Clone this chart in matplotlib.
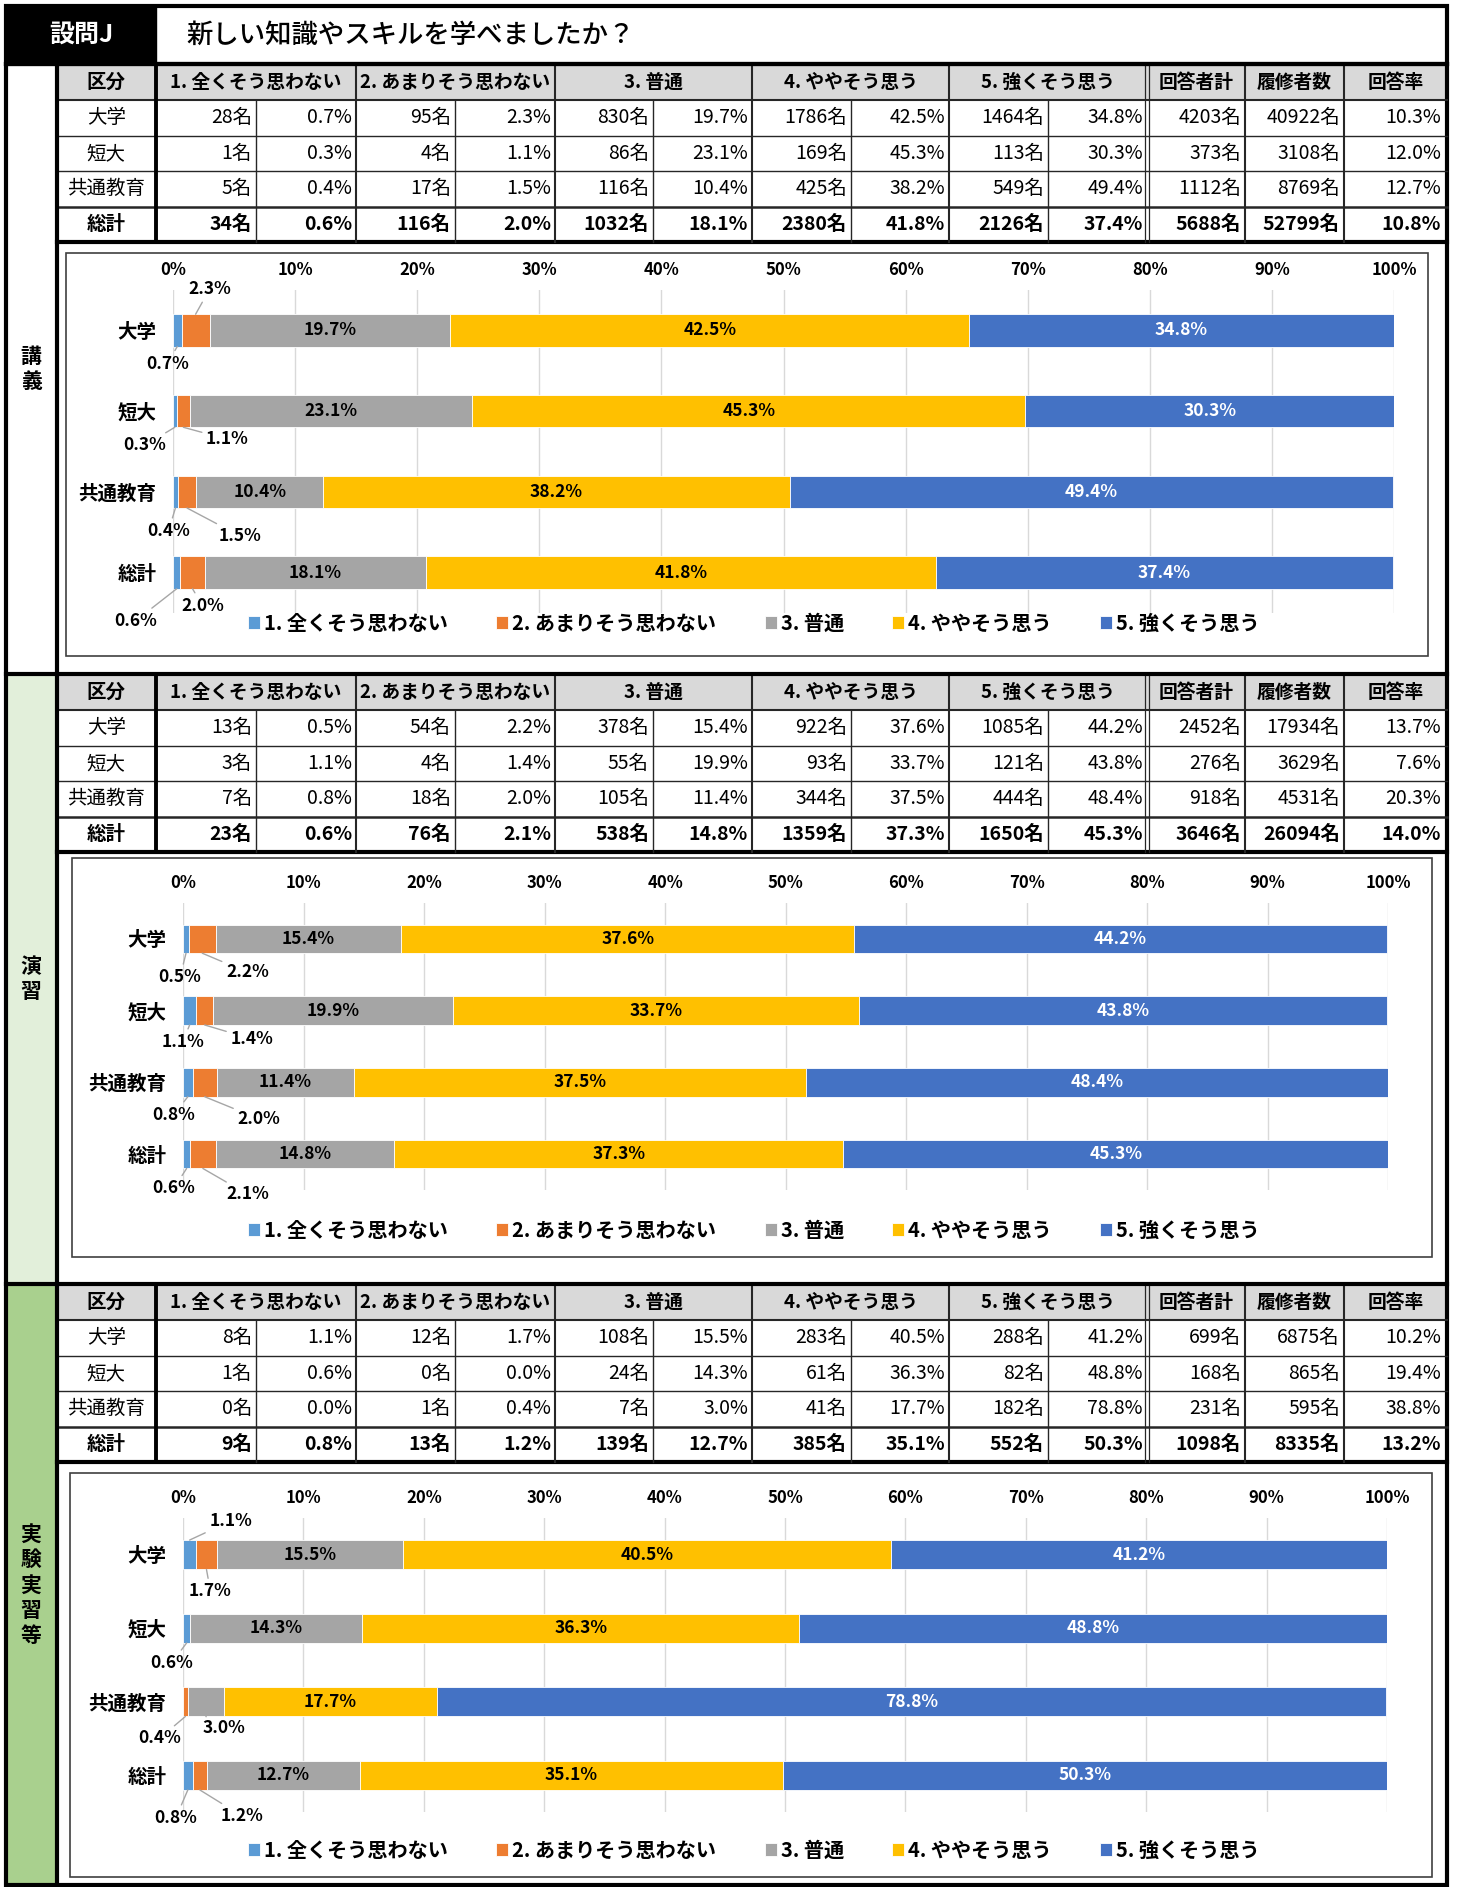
import matplotlib.pyplot as plt
from matplotlib.patches import Rectangle
import numpy as np

plt.rcParams['font.family'] = ['Noto Sans CJK JP', 'DejaVu Sans']

W, H = 1457, 1887

title_tag = '設問J'
title = '新しい知識やスキルを学べましたか？'
categories = ['大学', '短大', '共通教育', '総計']
answers = ['1. 全くそう思わない', '2. あまりそう思わない', '3. 普通', '4. ややそう思う', '5. 強くそう思う']
extra_cols = ['回答者計', '履修者数', '回答率']
colors = ['#5B9BD5', '#ED7D31', '#A5A5A5', '#FFC000', '#4472C4']
section_names = ['講義', '演習', '実験実習等']

# 講義
lec_n = [[28, 95, 830, 1786, 1464], [1, 4, 86, 169, 113], [5, 17, 116, 425, 549], [34, 116, 1032, 2380, 2126]]
lec_pct = [[0.7, 2.3, 19.7, 42.5, 34.8], [0.3, 1.1, 23.1, 45.3, 30.3], [0.4, 1.5, 10.4, 38.2, 49.4], [0.6, 2.0, 18.1, 41.8, 37.4]]
lec_resp = [4203, 373, 1112, 5688]
lec_enr = [40922, 3108, 8769, 52799]
lec_rate = [10.3, 12.0, 12.7, 10.8]

# 演習
ex_n = [[13, 54, 378, 922, 1085], [3, 4, 55, 93, 121], [7, 18, 105, 344, 444], [23, 76, 538, 1359, 1650]]
ex_pct = [[0.5, 2.2, 15.4, 37.6, 44.2], [1.1, 1.4, 19.9, 33.7, 43.8], [0.8, 2.0, 11.4, 37.5, 48.4], [0.6, 2.1, 14.8, 37.3, 45.3]]
ex_resp = [2452, 276, 918, 3646]
ex_enr = [17934, 3629, 4531, 26094]
ex_rate = [13.7, 7.6, 20.3, 14.0]

# 実験実習等
lab_n = [[8, 12, 108, 283, 288], [1, 0, 24, 61, 82], [0, 1, 7, 41, 182], [9, 13, 139, 385, 552]]
lab_pct = [[1.1, 1.7, 15.5, 40.5, 41.2], [0.6, 0.0, 14.3, 36.3, 48.8], [0.0, 0.4, 3.0, 17.7, 78.8], [0.8, 1.2, 12.7, 35.1, 50.3]]
lab_resp = [699, 168, 231, 1098]
lab_enr = [6875, 865, 595, 8335]
lab_rate = [10.2, 19.4, 38.8, 13.2]

data = [
    (lec_n, lec_pct, lec_resp, lec_enr, lec_rate),
    (ex_n, ex_pct, ex_resp, ex_enr, ex_rate),
    (lab_n, lab_pct, lab_resp, lab_enr, lab_rate),
]

# layout in pixels
layout = [
    dict(top=64, bottom=674, band='white', box=(66, 253, 1428, 656), plot=(173, 290, 1394, 613), legend_y=623),
    dict(top=674, bottom=1284, band='#E2EFDA', box=(72, 858, 1432, 1257), plot=(183, 903, 1388, 1190), legend_y=1230),
    dict(top=1284, bottom=1886, band='#A9D08E', box=(70, 1473, 1432, 1877), plot=(183, 1518, 1387, 1812), legend_y=1850),
]
# callout label offsets (px) from the bar edge: (row, series): (dx, dy), dy<0 -> above bar
callouts = [
    {(0, 0): (-10, 17), (0, 1): (14, -25), (1, 0): (-30, 18), (1, 1): (44, 12),
     (2, 0): (-7, 23), (2, 1): (53, 28), (3, 0): (-41, 32), (3, 1): (10, 17)},
    {(0, 0): (-6, 24), (0, 1): (45, 19), (1, 0): (-7, 17), (1, 1): (47, 14),
     (2, 0): (-14, 18), (2, 1): (54, 22), (3, 0): (-13, 20), (3, 1): (45, 26)},
    {(0, 0): (41, -19), (0, 1): (4, 22), (1, 0): (-15, 20), (2, 1): (-26, 22),
     (2, 2): (18, 12), (3, 0): (-12, 28), (3, 1): (42, 26)},
]

cols = [56.5, 156, 256, 356, 455, 555, 653, 752, 851, 949, 1048, 1147, 1245, 1344, 1447]
head_h = 36
row_h = 35.5
bar_h = 0.4

fig = plt.figure(figsize=(W / 100, H / 100), dpi=100)
bg = fig.add_axes([0, 0, 1, 1])
bg.set_xlim(0, W)
bg.set_ylim(H, 0)
bg.axis('off')


def line(x0, y0, x1, y1, lw=1, c='#262626'):
    bg.plot([x0, x1], [y0, y1], color=c, lw=lw, solid_capstyle='projecting')


# title bar
bg.add_patch(Rectangle((6, 6), 150, 58, facecolor='black', edgecolor='black'))
bg.text(81, 35, title_tag, color='white', fontsize=18, fontweight='bold', ha='center', va='center')
bg.text(186, 35, title, color='black', fontsize=19, fontweight='medium', ha='left', va='center')

for s, lay in enumerate(layout):
    T = lay['top']
    n, pct, resp, enr, rate = data[s]
    # left band
    bg.add_patch(Rectangle((6, T), 50.5, lay['bottom'] - T, facecolor=lay['band'], edgecolor='none'))
    bg.text(31, (T + lay['bottom']) / 2, '\n'.join(section_names[s]), fontsize=15, fontweight='bold',
            ha='center', va='center', linespacing=1.25)

    # table header
    bg.add_patch(Rectangle((cols[0], T), cols[-1] - cols[0], head_h, facecolor='#D9D9D9', edgecolor='none'))
    yh = T + head_h / 2
    bg.text((cols[0] + cols[1]) / 2, yh, '区分', fontsize=14, fontweight='bold', ha='center', va='center')
    for j, a in enumerate(answers):
        bg.text((cols[1 + 2 * j] + cols[3 + 2 * j]) / 2, yh, a, fontsize=13.5, fontweight='bold',
                ha='center', va='center')
    for k, e in enumerate(extra_cols):
        bg.text((cols[11 + k] + cols[12 + k]) / 2, yh, e, fontsize=13.5, fontweight='bold',
                ha='center', va='center')

    # table rows
    for i, cat in enumerate(categories):
        yc = T + head_h + row_h * (i + 0.5)
        fw = 'bold' if i == 3 else 'normal'
        bg.text((cols[0] + cols[1]) / 2, yc, cat, fontsize=14, fontweight=fw, ha='center', va='center')
        for j in range(5):
            bg.text(cols[2 + 2 * j] - 4, yc, f'{n[i][j]}名', fontsize=14, fontweight=fw, ha='right', va='center')
            bg.text(cols[3 + 2 * j] - 4, yc, f'{pct[i][j]:.1f}%', fontsize=14, fontweight=fw, ha='right', va='center')
        bg.text(cols[12] - 4, yc, f'{resp[i]}名', fontsize=14, fontweight=fw, ha='right', va='center')
        bg.text(cols[13] - 4, yc, f'{enr[i]}名', fontsize=14, fontweight=fw, ha='right', va='center')
        bg.text(cols[14] - 6, yc, f'{rate[i]:.1f}%', fontsize=14, fontweight=fw, ha='right', va='center')

    tb = T + head_h + 4 * row_h
    # table lines
    line(cols[0], T + head_h, cols[-1], T + head_h, lw=1.5)
    for i in range(1, 4):
        yy = T + head_h + row_h * i
        line(cols[0], yy, cols[-1], yy, lw=1.8 if i == 3 else 1)
    line(cols[0], tb, cols[-1], tb, lw=3, c='black')
    for k, x in enumerate(cols[1:-1], start=1):
        if x == 1147:
            line(x - 2, T, x - 2, tb, lw=0.9)
            line(x + 2, T, x + 2, tb, lw=0.9)
        elif k == 1:
            line(x, T, x, tb, lw=2.8, c='black')
        elif k % 2 == 0 and k < 11:
            line(x, T + head_h, x, tb, lw=1)
        else:
            line(x, T, x, tb, lw=1.5)
    # section top line
    line(6, T, W - 10, T, lw=3, c='black')

    # chart box
    bx0, by0, bx1, by1 = lay['box']
    bg.add_patch(Rectangle((bx0, by0), bx1 - bx0, by1 - by0, facecolor='white', edgecolor='#404040', lw=1.2))

    # bar chart
    px0, py0, px1, py1 = lay['plot']
    ax = fig.add_axes([px0 / W, 1 - py1 / H, (px1 - px0) / W, (py1 - py0) / H])
    ax.set_facecolor('none')
    p = np.array(pct)
    y = np.arange(len(categories))
    left = np.zeros(len(categories))
    handles = []
    for j in range(5):
        b = ax.barh(y, p[:, j], left=left, height=bar_h, color=colors[j], edgecolor='white',
                    linewidth=0.6, label=answers[j])
        handles.append(b)
        for i in range(len(categories)):
            v = p[i, j]
            cx = left[i] + v / 2
            if v >= 5:
                ax.text(cx, i, f'{v:.1f}%', ha='center', va='center', fontsize=12.5, fontweight='bold',
                        color='white' if j == 4 else 'black')
            elif v > 0 and (i, j) in callouts[s]:
                dx, dy = callouts[s][(i, j)]
                edge = i + bar_h / 2 if dy > 0 else i - bar_h / 2
                ax.annotate(f'{v:.1f}%', xy=(cx, edge), xytext=(dx * 0.72, -dy * 0.72),
                            textcoords='offset points', ha='center', va='center', fontsize=12.5,
                            fontweight='bold', annotation_clip=False,
                            arrowprops=dict(arrowstyle='-', color='#A6A6A6', lw=1, shrinkA=1, shrinkB=0))
        left = left + p[:, j]
    ax.set_xlim(0, 100)
    ax.set_ylim(3.5, -0.5)
    ax.xaxis.tick_top()
    ax.set_xticks(range(0, 101, 10))
    ax.set_xticklabels([f'{t}%' for t in range(0, 101, 10)], fontsize=12, fontweight='bold')
    ax.set_yticks(y)
    ax.set_yticklabels(categories, fontsize=14, fontweight='bold')
    ax.tick_params(axis='x', length=0, pad=8)
    ax.tick_params(axis='y', length=0, pad=12)
    ax.grid(axis='x', color='#D9D9D9', lw=1)
    ax.set_axisbelow(True)
    for sp in ax.spines.values():
        sp.set_visible(False)

    fig.legend(handles, answers, loc='center', bbox_to_anchor=(754 / W, 1 - lay['legend_y'] / H), ncol=5,
               frameon=False, prop=dict(size=14.5, weight='bold'), handlelength=0.6, handleheight=0.6,
               handletextpad=0.2, columnspacing=2.4)

# left column line and outer frame
line(56.5, 64, 56.5, 1885, lw=3, c='black')
line(6, 64, W - 10, 64, lw=3, c='black')
bg.add_patch(Rectangle((6, 6), W - 16, H - 8, facecolor='none', edgecolor='black', lw=3))

fig.savefig('out.png', dpi=100)
